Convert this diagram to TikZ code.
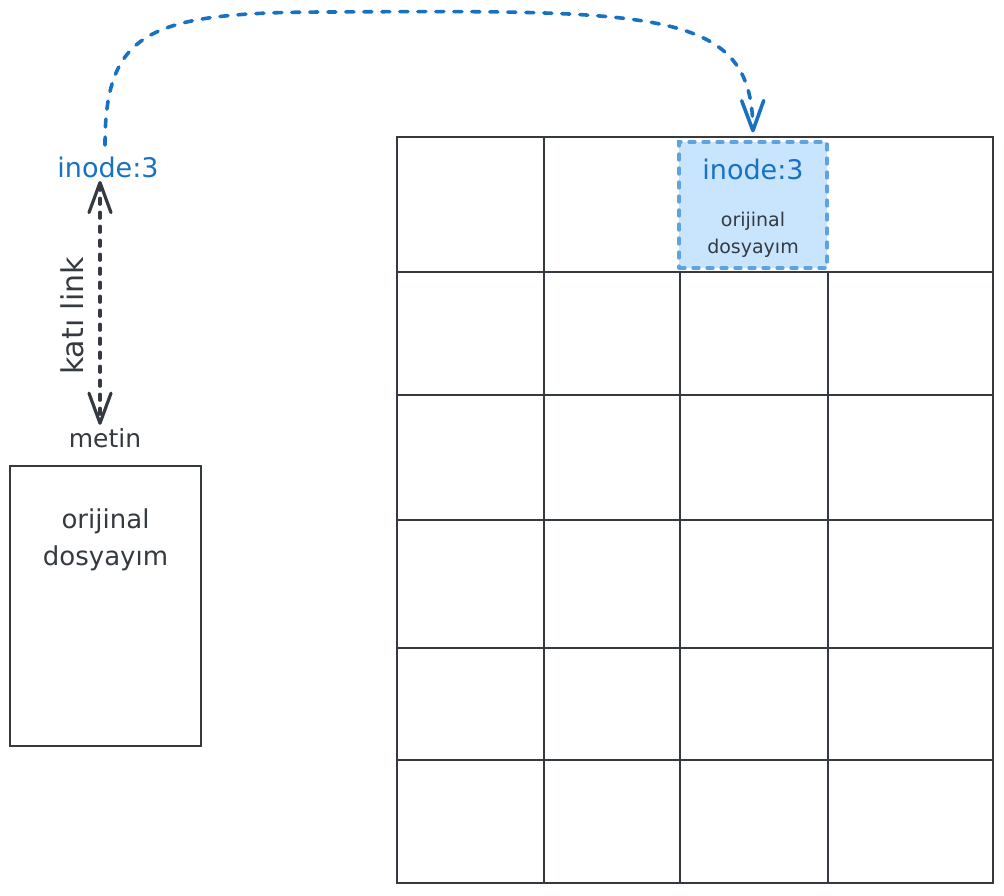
\documentclass[tikz,border=0pt]{standalone}
\usepackage{fontspec}
\setmainfont{DejaVu Sans}
\usetikzlibrary{arrows.meta,positioning}
\definecolor{koyu}{HTML}{343A40}
\definecolor{mavi}{HTML}{1971C2}
\definecolor{acik}{HTML}{C9E5FE}
\definecolor{kenar}{HTML}{5FA2E0}
\tikzset{
  buyuk/.style={font=\fontsize{27}{30}\selectfont},
  orta/.style={font=\fontsize{26}{37}\selectfont,align=center},
  kucuk/.style={font=\fontsize{19}{27}\selectfont,align=center},
  cizgi/.style={koyu,line width=2.4pt},
  kesik/.style={line width=3.2pt,dash pattern=on 6pt off 8pt,line cap=round}
}
\begin{document}
\begin{tikzpicture}[x=1pt,y=-1pt,>={Straight Barb[length=30pt,width=22pt,round]}]
\useasboundingbox (0,0) rectangle (1004,895);
% secili blok
\node[fill=acik,draw=kenar,kesik,minimum width=148pt,minimum height=126pt,inner sep=0pt](hucre)at(753,205){};
\node[buyuk,text=mavi](hucreno)at(753,169){inode:3};
\node[kucuk,text=koyu,below=26pt of hucreno](hucread){orijinal\\dosyayım};
% disk tablosu
\draw[cizgi](397,137)rectangle(993,883);
\foreach \y in {272,395,520,648,760} \draw[cizgi](397,\y)--(993,\y);
\draw[cizgi](544,137)--(544,883);
\foreach \x in {680,828} \draw[cizgi](\x,272)--(\x,883);
% sol taraf
\node[buyuk,text=mavi](inodeL)at(108,167){inode:3};
\node[font=\fontsize{25}{26}\selectfont,text=koyu](metin)at(105,438){metin};
\node[draw=koyu,line width=1.2pt,minimum width=191pt,minimum height=280pt,inner sep=0pt](dosya)at(105.5,606){};
\node[orta,text=koyu,below=40pt of dosya.north](dosyaad){orijinal\\dosyayım};
\node[font=\fontsize{30}{30}\selectfont,text=koyu,rotate=90](kati)at(72,316){katı link};
\draw[koyu,kesik,<->]([xshift=-8pt]inodeL.south)--([xshift=-5pt]metin.north);
\draw[mavi,kesik,line width=3.6pt,dash pattern=on 8pt off 10pt,->,shorten <=8pt,shorten >=8pt]([xshift=-3pt]inodeL.north)..controls(105,30)and(150,12)..(330,12)..controls(660,10)and(752,10)..(hucre.north);
\end{tikzpicture}
\end{document}
